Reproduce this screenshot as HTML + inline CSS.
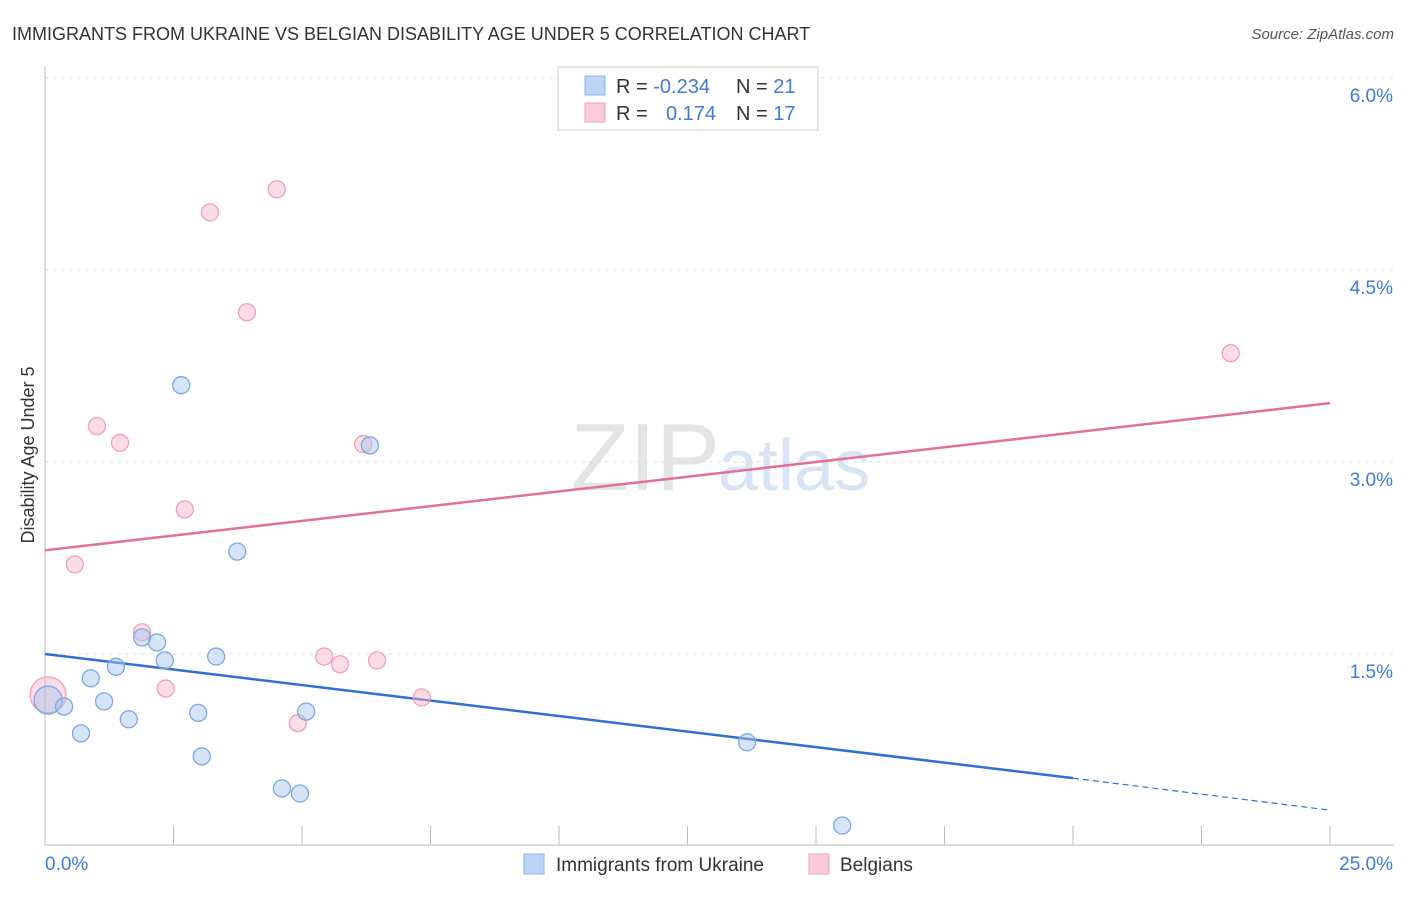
<!DOCTYPE html>
<html><head><meta charset="utf-8"><style>
body{margin:0;background:#fff;font-family:"Liberation Sans",sans-serif;}
svg text{font-family:"Liberation Sans",sans-serif;}
</style></head><body>
<svg id="c" width="1406" height="892" xmlns="http://www.w3.org/2000/svg">
<text x="12" y="40" font-size="18" fill="#333">IMMIGRANTS FROM UKRAINE VS BELGIAN DISABILITY AGE UNDER 5 CORRELATION CHART</text>
<text x="1394" y="39" font-size="15" fill="#555" font-style="italic" text-anchor="end">Source: ZipAtlas.com</text>
<text x="720" y="490" font-size="96" fill="#e4e4e4" text-anchor="end" font-family="Liberation Serif">ZIP</text>
<text x="718" y="490" font-size="72" fill="#d6e4f5">atlas</text>
<g id="grid"></g>
<g id="axes"></g>
<g id="trend"></g>
<g id="pts"></g>
<text transform="translate(34,455) rotate(-90)" font-size="18" fill="#333" text-anchor="middle">Disability Age Under 5</text>
<g>
<rect x="558" y="67" width="260" height="63" fill="#fff" stroke="#ccc"/>
<rect x="585" y="76" width="20" height="19" fill="#bcd5f5" stroke="#8ab4e8"/>
<rect x="585" y="103" width="20" height="19" fill="#fbcbd8" stroke="#f0a0b8"/>
<text x="616" y="93" font-size="20" fill="#333">R = <tspan fill="#3d7bd9">-0.234</tspan><tspan x="736">N = </tspan><tspan fill="#3d7bd9">21</tspan></text>
<text x="616" y="120" font-size="20" fill="#333">R = <tspan x="666" fill="#3d7bd9">0.174</tspan><tspan x="736">N = </tspan><tspan fill="#3d7bd9">17</tspan></text>
</g>
<g>
<rect x="524" y="854" width="20" height="20" fill="#bcd5f5" stroke="#8ab4e8"/>
<text x="556" y="871" font-size="19" fill="#333">Immigrants from Ukraine</text>
<rect x="809" y="854" width="20" height="20" fill="#fbcbd8" stroke="#f0a0b8"/>
<text x="840" y="871" font-size="19" fill="#333">Belgians</text>
</g>
</svg>
<script>
const xTicks=[0,2.5,5,7.5,10,12.5,15,17.5,20,22.5,25];
const yTicks=[1.5,3.0,4.5,6.0];
const yTickLabels=["1.5%","3.0%","4.5%","6.0%"];
const ukraineX=[0.06,0.37,0.70,0.89,1.15,1.38,1.63,1.89,2.18,2.33,2.65,2.98,3.05,3.33,3.74,4.61,4.96,5.08,6.32,13.66,15.51];
const ukraineY=[1.14,1.09,0.88,1.31,1.13,1.40,0.99,1.63,1.59,1.45,3.60,1.04,0.70,1.48,2.30,0.45,0.41,1.05,3.13,0.81,0.16];
const belgX=[0.06,0.58,1.01,1.46,1.89,2.35,2.72,3.21,3.93,4.51,4.92,5.43,5.74,6.19,6.46,7.33,23.07];
const belgY=[1.18,2.20,3.28,3.15,1.67,1.23,2.63,4.95,4.17,5.13,0.96,1.48,1.42,3.14,1.45,1.16,3.85];
const ukraineTrend=[1.50,0.53,0.28]; // at x=0,20,25
const belgTrend=[2.31,3.46]; // at x=0,25
const sx=v=>45+v/25*1285, sy=v=>846-v*128;
const NS="http://www.w3.org/2000/svg";
function mk(p,t,a){const e=document.createElementNS(NS,t);for(const k in a)e.setAttribute(k,a[k]);p.appendChild(e);return e;}
const grid=document.getElementById('grid'),axes=document.getElementById('axes'),tr=document.getElementById('trend'),pts=document.getElementById('pts');
yTicks.forEach((v,i)=>{
 const l=mk(grid,'line',{x1:45,x2:1394,y1:sy(v),y2:sy(v),stroke:'#ddd','stroke-dasharray':'4,4'});
 
 
 const t=mk(axes,'text',{x:1393,y:sy(v)+24,'font-size':19,fill:'#3d7bd9','text-anchor':'end'});t.textContent=yTickLabels[i];
 
 
});
const ax=mk(axes,'line',{x1:45,x2:1394,y1:845,y2:845,stroke:'#bbb'});


const ay=mk(axes,'line',{x1:45,x2:45,y1:67,y2:845,stroke:'#bbb'});


xTicks.forEach(v=>{const t=mk(axes,'line',{x1:sx(v),x2:sx(v),y1:826,y2:845,stroke:'#bbb'});
 
 });
const xl=mk(axes,'text',{x:45,y:870,'font-size':19,fill:'#3d7bd9'});xl.textContent='0.0%';


const xr=mk(axes,'text',{x:1393,y:870,'font-size':19,fill:'#3d7bd9','text-anchor':'end'});xr.textContent='25.0%';


let l1=mk(tr,'line',{x1:sx(0),y1:sy(ukraineTrend[0]),x2:sx(20),y2:sy(ukraineTrend[1]),stroke:'#2f6fd6','stroke-width':2.5});


let l2=mk(tr,'line',{x1:sx(20),y1:sy(ukraineTrend[1]),x2:sx(25),y2:sy(ukraineTrend[2]),stroke:'#2f6fd6','stroke-width':1.2,'stroke-dasharray':'6,4'});


let l3=mk(tr,'line',{x1:sx(0),y1:sy(belgTrend[0]),x2:sx(25),y2:sy(belgTrend[1]),stroke:'#e3709a','stroke-width':2.5});


belgX.forEach((x,i)=>{const c=mk(pts,'circle',{cx:sx(x),cy:sy(belgY[i]),r:i==0?18:8.5,fill:'rgba(248,180,200,0.45)',stroke:'#f0a0b8','stroke-width':1.3});
 
 });
ukraineX.forEach((x,i)=>{const c=mk(pts,'circle',{cx:sx(x),cy:sy(ukraineY[i]),r:i==0?14:8.5,fill:'rgba(164,196,240,0.45)',stroke:'#7aa8e4','stroke-width':1.3});
 
 });
</script>
</body></html>
